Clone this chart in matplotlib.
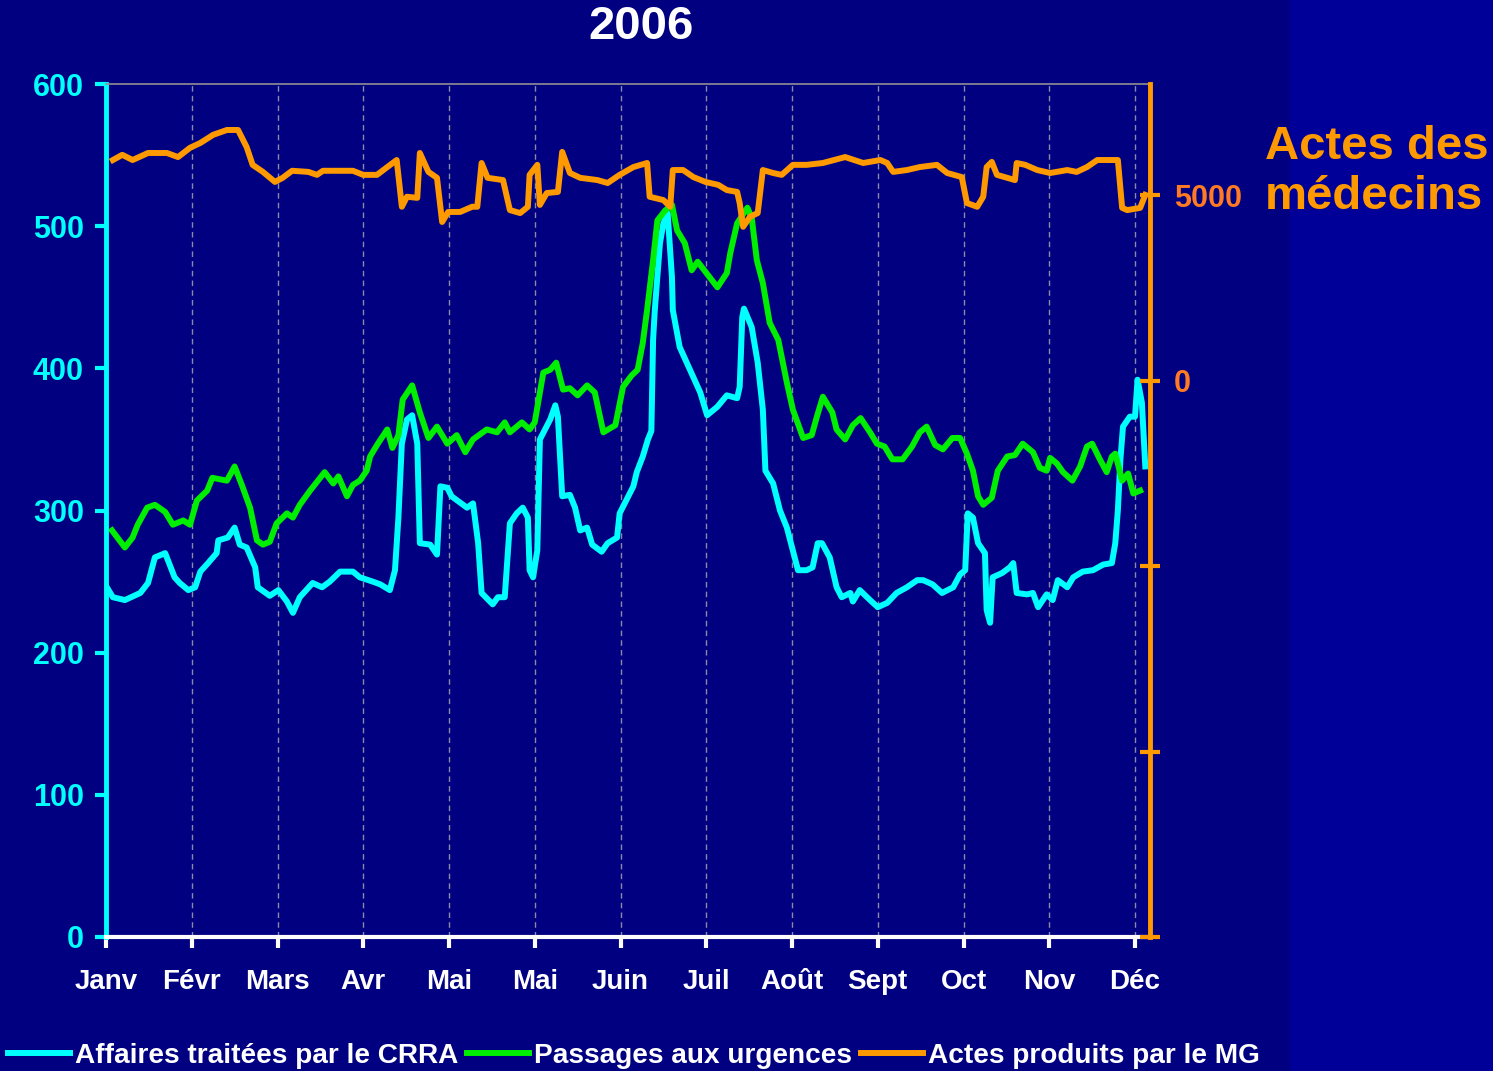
import matplotlib
matplotlib.use("Agg")
from matplotlib import pyplot as plt
from matplotlib.patches import Rectangle

plt.rcParams['font.family'] = ['Liberation Sans', 'DejaVu Sans']
plt.rcParams['font.weight'] = 'bold'

mois = ['Janv', 'Févr', 'Mars', 'Avr', 'Mai', 'Mai', 'Juin', 'Juil',
        'Août', 'Sept', 'Oct', 'Nov', 'Déc']

# Affaires traitées par le CRRA (axe gauche), position en mois
crra_x = [0.00, 0.08, 0.22, 0.40, 0.49, 0.57, 0.69, 0.80, 0.86, 0.96,
          1.04, 1.10, 1.19, 1.29, 1.31, 1.42, 1.50, 1.56, 1.64, 1.74,
          1.77, 1.91, 2.01, 2.11, 2.18, 2.26, 2.41, 2.52, 2.61, 2.73,
          2.88, 2.96, 3.11, 3.20, 3.31, 3.37, 3.41, 3.45, 3.51, 3.57,
          3.63, 3.66, 3.78, 3.86, 3.90, 3.98, 4.03, 4.21, 4.28, 4.34,
          4.38, 4.51, 4.57, 4.65, 4.71, 4.79, 4.86, 4.92, 4.94, 4.98,
          5.03, 5.06, 5.18, 5.24, 5.27, 5.32, 5.41, 5.47, 5.53, 5.61,
          5.67, 5.78, 5.85, 5.96, 5.99, 6.15, 6.19, 6.26, 6.32, 6.36,
          6.38, 6.40, 6.46, 6.50, 6.55, 6.60, 6.61, 6.69, 6.81, 6.93,
          7.01, 7.13, 7.24, 7.36, 7.39, 7.42, 7.44, 7.53, 7.60, 7.66,
          7.69, 7.78, 7.86, 7.94, 8.01, 8.07, 8.17, 8.24, 8.30, 8.35,
          8.44, 8.52, 8.58, 8.68, 8.71, 8.79, 8.91, 9.00, 9.11, 9.22,
          9.34, 9.46, 9.53, 9.64, 9.75, 9.88, 9.96, 10.02, 10.05, 10.11,
          10.17, 10.25, 10.27, 10.31, 10.34, 10.45, 10.54, 10.58, 10.62, 10.74,
          10.81, 10.87, 10.97, 11.04, 11.10, 11.21, 11.28, 11.39, 11.51, 11.63,
          11.73, 11.77, 11.80, 11.83, 11.86, 11.94, 12.00, 12.03, 12.08, 12.12]
crra = [247, 239, 237, 242, 249, 267, 270, 253, 249, 244,
        246, 257, 263, 270, 279, 281, 288, 276, 274, 260,
        246, 240, 244, 236, 228, 239, 249, 246, 250, 257,
        257, 253, 250, 248, 244, 258, 295, 347, 364, 367,
        347, 277, 276, 269, 317, 316, 310, 302, 305, 277,
        242, 234, 239, 239, 291, 298, 302, 295, 258, 253,
        272, 350, 364, 374, 366, 310, 311, 302, 286, 288,
        276, 271, 277, 281, 298, 317, 327, 338, 350, 356,
        420, 441, 488, 502, 509, 464, 441, 415, 399, 383,
        367, 373, 381, 379, 387, 436, 442, 429, 404, 371,
        328, 319, 300, 288, 272, 258, 258, 260, 277, 277,
        267, 246, 239, 242, 236, 244, 237, 232, 235, 242,
        246, 251, 251, 248, 242, 246, 255, 258, 298, 295,
        277, 270, 230, 221, 253, 256, 260, 263, 242, 241,
        242, 232, 241, 237, 251, 246, 253, 257, 258, 262,
        263, 277, 300, 336, 359, 366, 366, 392, 376, 331]

# Passages aux urgences (axe gauche)
urg_x = [0.07, 0.22, 0.31, 0.37, 0.48, 0.57, 0.69, 0.78, 0.90, 0.98,
         1.06, 1.18, 1.24, 1.41, 1.50, 1.59, 1.68, 1.76, 1.83, 1.91,
         1.99, 2.11, 2.18, 2.26, 2.38, 2.55, 2.65, 2.71, 2.81, 2.88,
         2.96, 3.04, 3.08, 3.17, 3.28, 3.34, 3.41, 3.46, 3.57, 3.66,
         3.76, 3.86, 3.98, 4.09, 4.19, 4.28, 4.44, 4.56, 4.65, 4.71,
         4.85, 4.94, 5.00, 5.10, 5.18, 5.25, 5.33, 5.41, 5.50, 5.61,
         5.70, 5.80, 5.94, 6.03, 6.13, 6.20, 6.26, 6.31, 6.38, 6.43,
         6.52, 6.60, 6.66, 6.75, 6.83, 6.90, 7.04, 7.13, 7.24, 7.28,
         7.36, 7.48, 7.53, 7.59, 7.66, 7.74, 7.84, 7.94, 8.01, 8.13,
         8.23, 8.29, 8.36, 8.47, 8.52, 8.62, 8.71, 8.80, 8.91, 8.99,
         9.08, 9.17, 9.29, 9.40, 9.49, 9.57, 9.67, 9.76, 9.87, 9.96,
         10.04, 10.11, 10.17, 10.23, 10.33, 10.40, 10.51, 10.60, 10.69, 10.81,
         10.89, 10.97, 11.01, 11.09, 11.16, 11.27, 11.36, 11.44, 11.50, 11.59,
         11.67, 11.73, 11.77, 11.85, 11.92, 11.98, 12.06]
urg = [286, 274, 281, 290, 302, 304, 299, 290, 293, 290,
       307, 314, 323, 321, 331, 317, 302, 279, 276, 278,
       291, 298, 295, 304, 314, 327, 319, 324, 310, 318,
       321, 328, 338, 347, 357, 344, 353, 378, 388, 369,
       351, 359, 347, 353, 341, 350, 357, 355, 362, 355,
       362, 357, 362, 397, 399, 404, 385, 386, 381, 388,
       383, 355, 360, 387, 395, 399, 418, 441, 476, 504,
       511, 515, 497, 488, 469, 475, 464, 457, 467, 481,
       502, 513, 506, 476, 460, 432, 420, 390, 371, 351,
       353, 366, 380, 369, 357, 350, 360, 365, 355, 347,
       345, 336, 336, 345, 355, 359, 346, 343, 351, 351,
       340, 328, 310, 304, 309, 328, 338, 339, 347, 341,
       330, 328, 337, 333, 327, 321, 331, 345, 347, 336,
       327, 338, 340, 321, 326, 312, 314]

# Actes produits par le MG (axe droit)
mg_x = [0.08, 0.19, 0.31, 0.49, 0.71, 0.84, 0.98, 1.10, 1.25, 1.41,
        1.54, 1.64, 1.71, 1.83, 1.97, 2.06, 2.17, 2.36, 2.46, 2.53,
        2.88, 3.00, 3.16, 3.28, 3.39, 3.45, 3.51, 3.63, 3.66, 3.76,
        3.86, 3.92, 3.99, 4.13, 4.27, 4.33, 4.38, 4.45, 4.63, 4.71,
        4.83, 4.92, 4.94, 5.03, 5.06, 5.14, 5.27, 5.32, 5.41, 5.53,
        5.73, 5.85, 5.99, 6.15, 6.31, 6.34, 6.50, 6.58, 6.61, 6.73,
        6.85, 6.99, 7.14, 7.24, 7.36, 7.39, 7.43, 7.51, 7.60, 7.66,
        7.78, 7.88, 8.01, 8.17, 8.36, 8.62, 8.83, 9.03, 9.11, 9.18,
        9.34, 9.49, 9.69, 9.81, 9.98, 10.04, 10.16, 10.23, 10.27, 10.33,
        10.39, 10.51, 10.60, 10.62, 10.72, 10.86, 11.01, 11.21, 11.32, 11.44,
        11.56, 11.80, 11.85, 11.91, 12.06, 12.12]
mg = [5950, 6090, 5950, 6140, 6140, 6030, 6280, 6410, 6630, 6760,
      6760, 6300, 5820, 5630, 5360, 5470, 5660, 5630, 5550, 5660,
      5660, 5550, 5550, 5760, 5950, 4690, 4960, 4930, 6140, 5630,
      5470, 4280, 4550, 4550, 4690, 4690, 5870, 5470, 5410, 4600,
      4520, 4690, 5550, 5820, 4740, 5060, 5090, 6170, 5600, 5470,
      5410, 5330, 5550, 5760, 5870, 4960, 4870, 4690, 5680, 5680,
      5490, 5360, 5280, 5140, 5090, 4790, 4150, 4420, 4520, 5680,
      5600, 5550, 5820, 5820, 5870, 6030, 5870, 5950, 5870, 5630,
      5680, 5760, 5820, 5600, 5490, 4790, 4690, 4960, 5760, 5900,
      5550, 5470, 5410, 5870, 5820, 5680, 5600, 5680, 5630, 5760,
      5950, 5950, 4660, 4600, 4660, 5010]

fond = '#000080'
cyan = '#00ffff'
vert = '#00ee00'
orange = '#ff9900'


def main():
    fig = plt.figure(figsize=(14.93, 10.71), dpi=100, facecolor=fond)
    fig.add_artist(Rectangle((1290 / 1493, 0), 1, 1, transform=fig.transFigure,
                             facecolor='#000099', edgecolor='none', zorder=-1))

    ax = fig.add_axes([106 / 1493, 1 - 937 / 1071, 1044 / 1493, 853 / 1071])
    ax.set_facecolor(fond)
    ax2 = ax.twinx()

    lw = 4.3
    l1, = ax.plot(crra_x, crra, color=cyan, lw=lw, solid_joinstyle='round')
    l2, = ax.plot(urg_x, urg, color=vert, lw=lw, solid_joinstyle='round')
    l3, = ax2.plot(mg_x, mg, color=orange, lw=lw, solid_joinstyle='round')

    ax.set_xlim(0, 1044 / 85.75)
    ax.set_ylim(0, 600)
    ax2.set_ylim(-15000, 8000)

    ax.set_xticks(range(13))
    ax.set_xticklabels(mois)
    ax.set_yticks(range(0, 601, 100))
    ax2.set_yticks([-15000, -10000, -5000, 0, 5000])
    ax2.set_yticklabels(['', '', '', '0', '5000'])

    ax.grid(axis='x', color='#8a8aa8', lw=1, linestyle=(0, (4, 3)))
    ax.set_axisbelow(True)

    ax.tick_params(axis='x', colors='white', length=8, width=3, pad=15,
                   labelsize=20)
    ax.tick_params(axis='y', colors=cyan, length=8, width=3, pad=8,
                   labelsize=22)
    ax2.tick_params(axis='y', colors=orange, direction='inout', length=14,
                    width=3, pad=10, labelsize=22, labelcolor='#ff7a22')

    ax.spines['left'].set_color(cyan)
    ax.spines['left'].set_linewidth(3.5)
    ax.spines['bottom'].set_color('white')
    ax.spines['bottom'].set_linewidth(3)
    ax.spines['top'].set_color('#909090')
    ax.spines['top'].set_linewidth(1.2)
    ax.spines['right'].set_visible(False)
    for s in ['left', 'bottom', 'top']:
        ax2.spines[s].set_visible(False)
    ax2.spines['right'].set_color(orange)
    ax2.spines['right'].set_linewidth(3.5)

    fig.text(641 / 1493, 1 - 27 / 1071, '2006', color='white', fontsize=34,
             ha='center', va='center', fontweight='bold')
    fig.text(1265 / 1493, 1 - 172 / 1071, 'Actes des\nmédecins', color=orange,
             fontsize=34, ha='left', va='center', fontweight='bold',
             linespacing=1.2)

    leg = fig.legend([l1, l2, l3],
                     ['Affaires traitées par le CRRA', 'Passages aux urgences',
                      'Actes produits par le MG'],
                     loc='center left', bbox_to_anchor=(8 / 1493, 1 - 1056 / 1071),
                     ncol=3, frameon=False, fontsize=20.2, handlelength=2.2,
                     handletextpad=0.2, columnspacing=0.3, borderpad=0,
                     borderaxespad=0)
    for t in leg.get_texts():
        t.set_color('white')

    fig.savefig('out.png', dpi=100, facecolor=fond)


if __name__ == "__main__":
    main()
